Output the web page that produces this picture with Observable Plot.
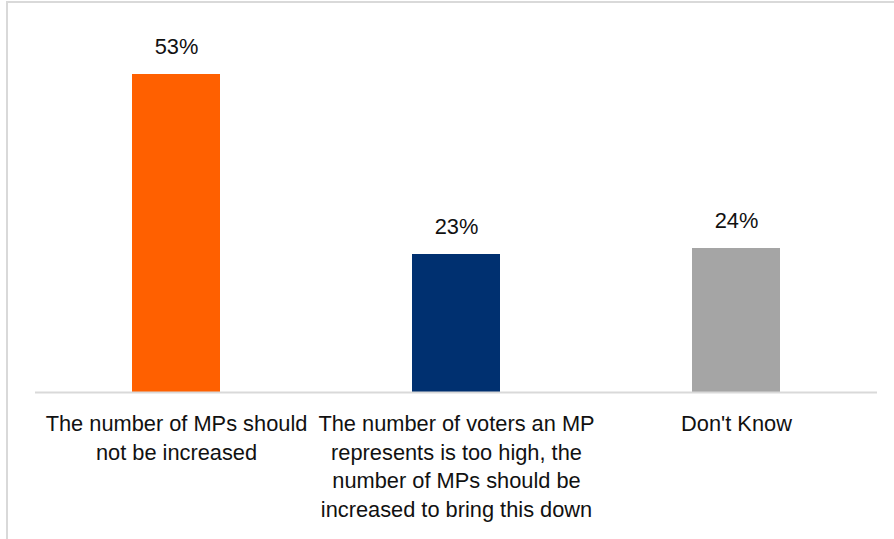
<!DOCTYPE html>
<html>
<head>
<meta charset="utf-8">
<script src="https://cdn.jsdelivr.net/npm/d3@7"></script>
<script src="https://cdn.jsdelivr.net/npm/@observablehq/plot@0.6"></script>
<style>
  html, body { margin: 0; padding: 0; background: #fff; overflow: hidden; }
  #wrap { position: relative; width: 894px; height: 539px; }
  #frame { position: absolute; left: 6px; top: 1px; width: 1000px; height: 1000px;
           border-left: 2px solid #d9d9d9; border-top: 2px solid #d9d9d9; box-sizing: border-box; }
  #chart { position: absolute; left: 0; top: 0; }
</style>
</head>
<body>
<div id="wrap"><div id="frame"></div><div id="chart"></div></div>
<script>
const categories = [
  "The number of MPs should not be increased",
  "The number of voters an MP represents is too high, the number of MPs should be increased to bring this down",
  "Don't Know"
];
const tickLabels = [
  "The number of MPs should\nnot be increased",
  "The number of voters an MP\nrepresents is too high, the\nnumber of MPs should be\nincreased to bring this down",
  "Don't Know"
];
const values = [53, 23, 24];
const colors = ["#ff6000", "#003070", "#a5a5a5"];

const data = categories.map((c, i) => ({category: c, value: values[i], color: colors[i]}));

const chart = Plot.plot({
  width: 894,
  height: 539,
  marginLeft: 35,
  marginRight: 17,
  marginTop: 32,
  marginBottom: 147,
  style: {fontFamily: "'Liberation Sans', Arial, sans-serif", fontSize: "21.8px", color: "#111", background: "transparent"},
  x: {domain: categories, paddingInner: 0.687, paddingOuter: 0.3435, label: null},
  y: {domain: [0, 60], axis: null},
  marks: [
    Plot.barY(data, {x: "category", y: "value", fill: "color"}),
    Plot.ruleY([0], {stroke: "#d9d9d9", strokeWidth: 2}),
    Plot.text(data, {x: "category", y: "value", text: d => d.value + "%", dy: -27, fill: "#111", fontSize: 21.8}),
    Plot.axisX({
      tickSize: 0,
      tickPadding: 18,
      lineHeight: 1.32,
      fontSize: 21.8,
      fill: "#111",
      tickFormat: d => tickLabels[categories.indexOf(d)],
      label: null
    })
  ]
});
document.getElementById("chart").appendChild(chart);
</script>
</body>
</html>
